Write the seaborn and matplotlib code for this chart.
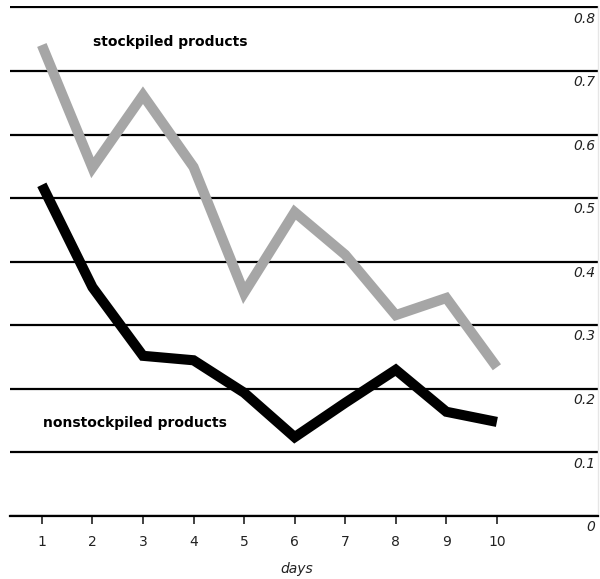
import matplotlib
matplotlib.use('Agg')
import matplotlib.pyplot as plt
import matplotlib.transforms as mtransforms
import pandas as pd
import seaborn as sns

DAYS = [1, 2, 3, 4, 5, 6, 7, 8, 9, 10]
STOCKPILED = [0.741, 0.548, 0.662, 0.549, 0.351, 0.478, 0.411, 0.316, 0.343, 0.234]
NONSTOCKPILED = [0.521, 0.360, 0.252, 0.245, 0.194, 0.124, 0.178, 0.230, 0.164, 0.148]
SERIES = ['stockpiled products', 'nonstockpiled products']
Y_TICKS = [0, 0.1, 0.2, 0.3, 0.4, 0.5, 0.6, 0.7, 0.8]
Y_LABELS = ['0', '0.1', '0.2', '0.3', '0.4', '0.5', '0.6', '0.7', '0.8']

# long-form table for seaborn
data = pd.DataFrame({
    'day': DAYS * 2,
    'value': STOCKPILED + NONSTOCKPILED,
    'product': [SERIES[0]] * len(DAYS) + [SERIES[1]] * len(DAYS),
})

sns.set_style('white')
plt.rcParams['font.family'] = ['DejaVu Sans']

fig = plt.figure(figsize=(6, 5.79), dpi=100)
ax = fig.add_axes([10 / 600, 1 - 516 / 579, 588 / 600, (516 - 5.9) / 579])

sns.lineplot(x='day', y='value', hue='product', data=data, ax=ax,
             palette={SERIES[0]: '#a6a6a6', SERIES[1]: '#000000'},
             linewidth=7.3, legend=False, zorder=3)
for line in ax.lines:
    line.set_solid_joinstyle('miter')
    line.set_solid_capstyle('butt')

ax.set_xlim(0.37, 12.0)
ax.set_ylim(0, 0.8025)

# horizontal rules
ax.set_yticks(Y_TICKS)
ax.yaxis.grid(True, color='black', linewidth=1.6)
ax.set_axisbelow(True)
ax.tick_params(axis='y', left=False, right=False, labelleft=False)

# y labels sit just under each rule on the right edge
trans = mtransforms.blended_transform_factory(ax.transAxes, ax.transData)
offset = mtransforms.ScaledTranslation(0, -3 / 72, fig.dpi_scale_trans)
for v, lab in zip(Y_TICKS, Y_LABELS):
    ax.text(0.996, v, lab, transform=trans + offset, ha='right', va='top',
            fontsize=10, style='italic', color='#222222')

ax.set_xticks(DAYS)
ax.set_xticklabels([str(d) for d in DAYS])
ax.tick_params(axis='x', bottom=True, direction='out', length=6, width=1.3,
               color='#333333', labelsize=10, labelcolor='#222222', pad=8)

for side in ['left', 'top']:
    ax.spines[side].set_visible(False)
ax.spines['right'].set_color('#e6e6e6')
ax.spines['right'].set_linewidth(1.0)
ax.spines['bottom'].set_color('black')
ax.spines['bottom'].set_linewidth(1.6)

ax.set_xlabel('days', fontsize=10, style='italic', color='#222222')
ax.xaxis.set_label_coords(0.488, -0.09)
ax.set_ylabel('')

ax.text(3.53, 0.745, SERIES[0], ha='center', va='center',
        fontsize=10, fontweight='bold', color='black')
ax.text(2.84, 0.146, SERIES[1], ha='center', va='center',
        fontsize=10, fontweight='bold', color='black')

fig.savefig('out.png', dpi=100)
